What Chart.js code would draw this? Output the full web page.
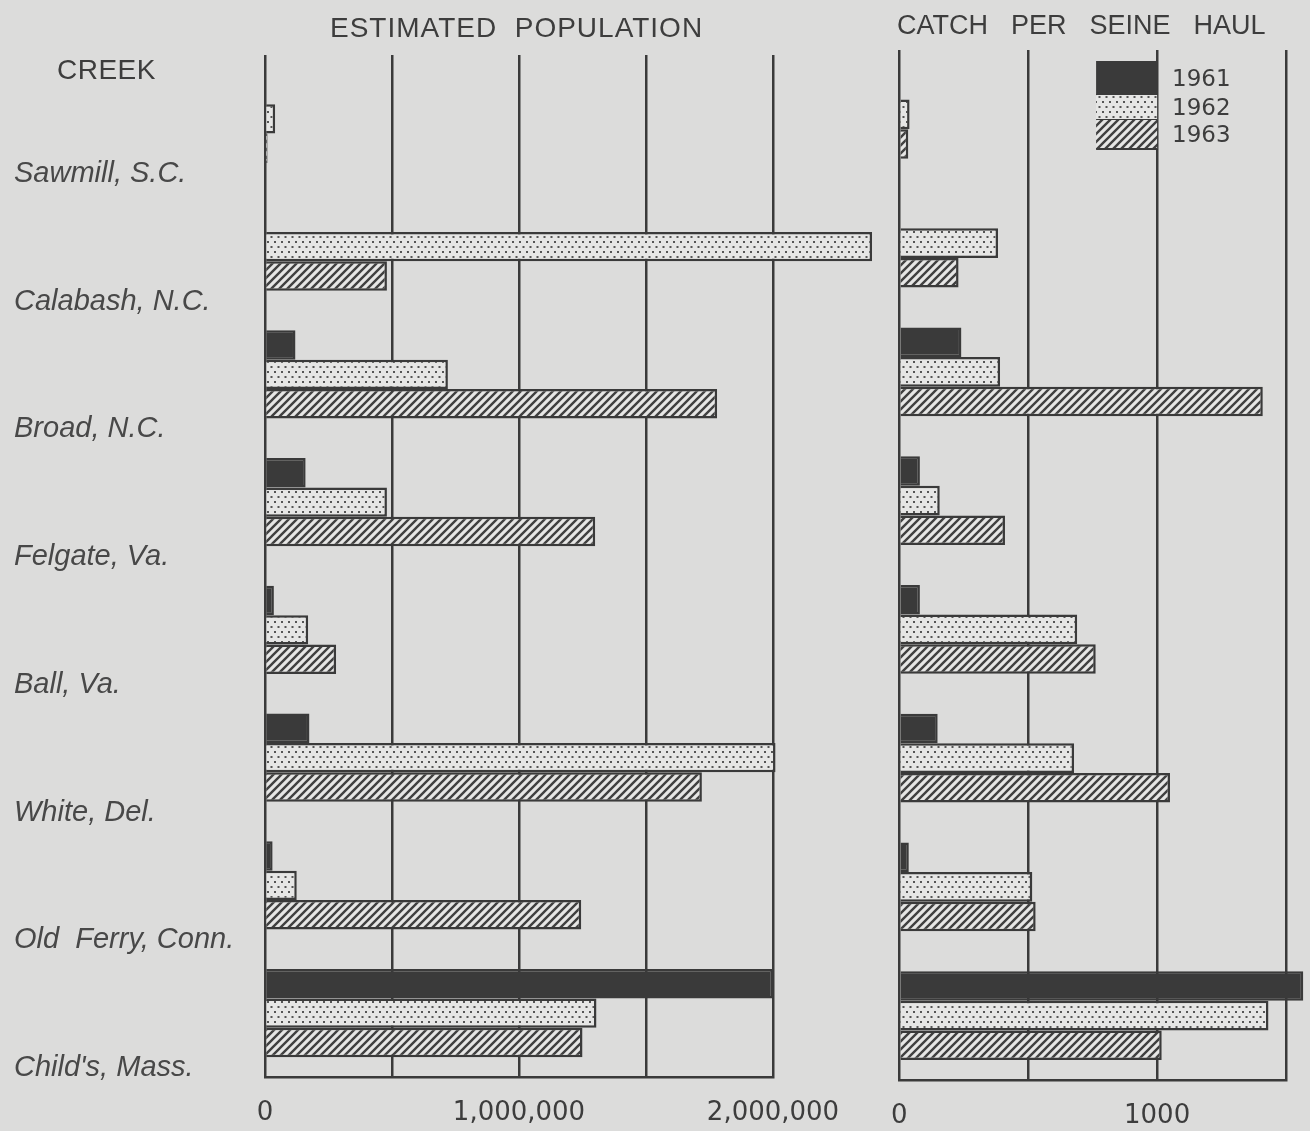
<!DOCTYPE html>
<html>
<head>
<meta charset="utf-8">
<script src="https://cdn.jsdelivr.net/npm/chart.js@4/dist/chart.umd.min.js"></script>
<style>
  html, body { margin: 0; padding: 0; background: #dcdcdb; }
  #wrap { position: relative; width: 1310px; height: 1131px; overflow: hidden; background: #dcdcdb; }
  canvas { position: absolute; top: 0; }
  .txt { position: absolute; color: #3d3d3d; white-space: pre; }
  #t1 { left: 330px; top: 12px; font: 28px "Liberation Sans", sans-serif; letter-spacing: 1px; }
  #t2 { left: 897px; top: 10px; font: 27px "Liberation Sans", sans-serif; word-spacing: 4px; }
  #t3 { left: 57px; top: 54px; font: 28px "Liberation Sans", sans-serif; letter-spacing: 0.5px; }
</style>
</head>
<body>
<div id="wrap">
  <canvas id="popChart" width="880" height="1131" style="left:0"></canvas>
  <canvas id="catchChart" width="440" height="1131" style="left:870px"></canvas>
  <div class="txt" id="t1">ESTIMATED  POPULATION</div>
  <div class="txt" id="t2">CATCH  PER  SEINE  HAUL</div>
  <div class="txt" id="t3">CREEK</div>
</div>
<script>
// creeks, top to bottom
const creeks = ["Sawmill, S.C.", "Calabash, N.C.", "Broad, N.C.", "Felgate, Va.",
  "Ball, Va.", "White, Del.", "Old  Ferry, Conn.", "Child's, Mass."];
const years = ["1961", "1962", "1963"];

// estimated population
const pop1961 = [null, null, 120000, 160000, 35000, 175000, 30000, 2000000];
const pop1962 = [40000, 2390000, 720000, 480000, 170000, 2010000, 125000, 1305000];
const pop1963 = [10000, 480000, 1780000, 1300000, 280000, 1720000, 1245000, 1250000];

// catch per seine haul
const catch1961 = [null, null, 241, 80, 80, 149, 37, 1567];
const catch1962 = [40, 383, 391, 157, 690, 678, 516, 1432];
const catch1963 = [35, 230, 1410, 410, 762, 1050, 529, 1018];

const INK = "#3a3a3a";

function dotPattern() {
  const c = document.createElement("canvas");
  c.width = 7; c.height = 10;
  const g = c.getContext("2d");
  g.fillStyle = "#e6e6e5";
  g.fillRect(0, 0, 7, 10);
  g.fillStyle = "#555";
  g.fillRect(1, 1, 2, 2);
  g.fillRect(4.5, 6, 2, 2);
  return g.createPattern(c, "repeat");
}

function hatchPattern() {
  const s = 8;
  const c = document.createElement("canvas");
  c.width = s; c.height = s;
  const g = c.getContext("2d");
  g.fillStyle = "#e6e6e5";
  g.fillRect(0, 0, s, s);
  g.strokeStyle = "#404040";
  g.lineWidth = 2.4;
  g.beginPath();
  g.moveTo(0, s); g.lineTo(s, 0);
  g.moveTo(-2, 2); g.lineTo(2, -2);
  g.moveTo(s - 2, s + 2); g.lineTo(s + 2, s - 2);
  g.stroke();
  return g.createPattern(c, "repeat");
}

const fills = [INK, dotPattern(), hatchPattern()];

function makeSets(rows) {
  return rows.map((data, i) => ({
    label: years[i],
    data,
    backgroundColor: fills[i],
    borderColor: INK,
    borderWidth: 2.5,
    borderSkipped: "start",
    categoryPercentage: 0.69,
    barPercentage: 1.0,
    clip: false,
  }));
}

const gridOpts = { color: INK, lineWidth: 2.5, drawTicks: false };
const tickFont = { family: "DejaVu Sans", size: 26 };

// stacked legend boxes drawn at the top right of the catch chart
const stackLegend = {
  id: "stackLegend",
  afterDraw(chart) {
    const ctx = chart.ctx;
    const x = chart.scales.x;
    const right = x.getPixelForValue(1000);
    const left = right - 61;
    const rows = [[61, 34], [95, 25], [120, 29]];
    ctx.save();
    chart.data.datasets.forEach((ds, i) => {
      const [top, h] = rows[i];
      ctx.fillStyle = ds.backgroundColor;
      ctx.fillRect(left, top, right - left, h);
      ctx.strokeStyle = INK;
      ctx.lineWidth = 2;
      ctx.beginPath();
      ctx.moveTo(left, top + h); ctx.lineTo(right, top + h);
      ctx.stroke();
      ctx.fillStyle = "#3d3d3d";
      ctx.font = "23px 'DejaVu Sans'";
      ctx.textBaseline = "middle";
      ctx.fillText(ds.label, right + 15, top + h / 2 + 2);
    });
    ctx.restore();
  },
};

new Chart(document.getElementById("popChart"), {
  type: "bar",
  data: { labels: creeks, datasets: makeSets([pop1961, pop1962, pop1963]) },
  options: {
    indexAxis: "y",
    responsive: false,
    animation: false,
    layout: { padding: { top: 55, right: 107, left: 14, bottom: 0 } },
    plugins: { legend: { display: false }, tooltip: { enabled: false } },
    scales: {
      x: {
        min: 0, max: 2000000,
        ticks: {
          stepSize: 500000,
          autoSkip: false,
          padding: 21,
          color: "#3d3d3d",
          font: tickFont,
          maxRotation: 0,
          callback: (v) => (v % 1000000 === 0 ? v.toLocaleString("en-US") : ""),
        },
        grid: gridOpts,
        border: { display: true, color: INK, width: 2.5 },
        afterFit: (s) => { s.height = 54; },
      },
      y: {
        ticks: {
          crossAlign: "far",
          labelOffset: 55,
          color: "#484848",
          font: { family: "Liberation Sans", style: "italic", size: 29 },
        },
        grid: { display: false },
        border: { display: false },
        afterFit: (s) => { s.width = 251; },
      },
    },
  },
});

new Chart(document.getElementById("catchChart"), {
  type: "bar",
  data: { labels: creeks, datasets: makeSets([catch1961, catch1962, catch1963]) },
  options: {
    indexAxis: "y",
    responsive: false,
    animation: false,
    layout: { padding: { top: 50, right: 24, left: 7, bottom: 0 } },
    plugins: { legend: { display: false }, tooltip: { enabled: false } },
    scales: {
      x: {
        min: 0, max: 1500,
        ticks: {
          stepSize: 500,
          autoSkip: false,
          padding: 21,
          color: "#3d3d3d",
          font: tickFont,
          maxRotation: 0,
          callback: (v) => (v % 1000 === 0 ? String(v) : ""),
        },
        grid: gridOpts,
        border: { display: true, color: INK, width: 2.5 },
        afterFit: (s) => { s.height = 51; },
      },
      y: { display: false },
    },
  },
  plugins: [stackLegend],
});
</script>
</body>
</html>
